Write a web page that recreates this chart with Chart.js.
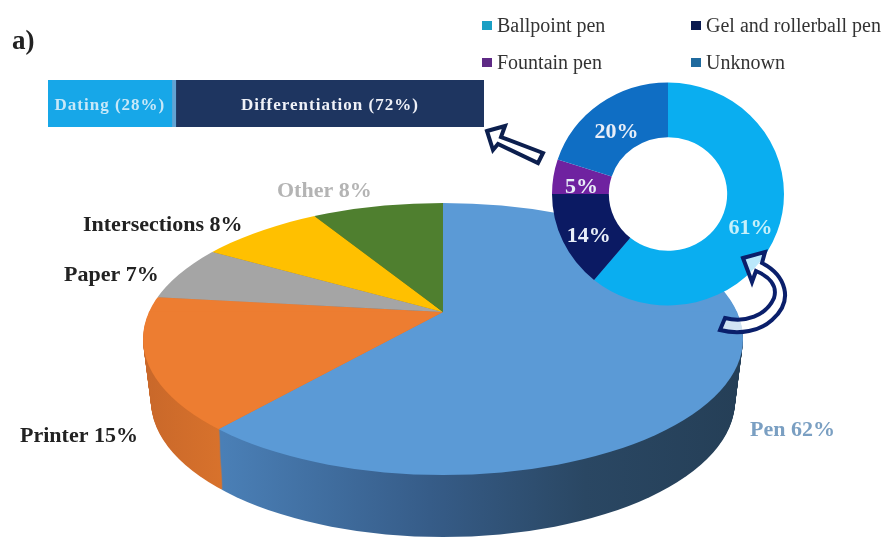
<!DOCTYPE html>
<html>
<head>
<meta charset="utf-8">
<title>a)</title>
<script src="https://cdn.jsdelivr.net/npm/chart.js@4"></script>
<style>
  html, body { margin: 0; padding: 0; background: #fff; }
  #page { position: relative; width: 887px; height: 539px; overflow: hidden; filter: blur(0.6px); font-family: "Liberation Serif", serif; }
  #page canvas, #page svg { position: absolute; }
  .txt { position: absolute; white-space: nowrap; line-height: 1; }
  .swatch { position: absolute; width: 10px; height: 9px; }
</style>
</head>
<body>
<div id="page">
  <canvas id="pie" width="886" height="539" style="left:0;top:0"></canvas>
  <canvas id="bar" width="436" height="47" style="left:48px;top:80px"></canvas>
  <canvas id="ring" width="232" height="232" style="left:552px;top:78px"></canvas>
  <svg width="887" height="539" style="left:0;top:0">
    <path d="M487 131 L505 126 L501 137 L543 153 L538 163 L498 144 L493 150 Z" fill="#fff" stroke="#0c1f4e" stroke-width="4" stroke-linejoin="miter"/>
    <path d="M743 258 L765 252 L762 263 C785 275 795 300 772 320 C760 331 740 335 720 330 L725 318 C745 323 766 316 774 298 C778 285 768 276 756 271 L752 282 Z" fill="#fff" fill-opacity="0.72" stroke="#0a1f6b" stroke-width="4"/>
  </svg>
</div>
<script>
const pieCategories = ["Pen", "Printer", "Paper", "Intersections", "Other"];
const pieValues = [62, 15, 7, 8, 8];
const pieColors = ["#5b9ad6", "#ed7d31", "#a5a5a5", "#ffc000", "#4f7f2f"];
const pieSideColors = ["#2f5378", "#d26f2b", "#777777", "#b88a00", "#375a20"];
const pieTextColors = ["#7a9fc2", "#222222", "#222222", "#222222", "#b4b4b4"];

const ringCategories = ["Ballpoint pen", "Gel and rollerball pen", "Fountain pen", "Unknown"];
const ringValues = [61, 14, 5, 20];
const ringColors = ["#0aaef0", "#0b1a63", "#6f22a0", "#0f6ec4"];
const legendColors = ["#1a9fc4", "#0a1a50", "#5e2a85", "#1f6a9e"];

const barLabels = ["Dating (28%)", "", "Differentiation (72%)"];
// widths as measured on the picture, the divider is a thin sliver
const barDating = [28.4];
const barDivider = [0.9];
const barDifferentiation = [70.7];

// pie label spots, left edge and middle
const pieLabelSpots = [[750, 430], [20, 436], [64, 275], [83, 225], [277, 191]];

const PIE = { cx: 443, cy: 339, rx: 300, ry: 136, ax: 443, ay: 312, above: 0.41, below: 0.49, depth: 62, taper: 8 };

function faceClip(ctx, top, bottom) {
  ctx.beginPath();
  ctx.rect(0, top, 886, bottom - top);
  ctx.clip();
  ctx.beginPath();
  ctx.ellipse(PIE.cx, PIE.cy, PIE.rx, PIE.ry, 0, 0, Math.PI * 2);
  ctx.clip();
}

function squash(ctx, arc, y, s) {
  ctx.translate(0, y);
  ctx.scale(1, s);
  ctx.translate(0, -arc.y);
}

function sideFill(ctx, i) {
  if (i === 0) {
    const g = ctx.createLinearGradient(223, 0, 740, 0);
    g.addColorStop(0, "#4a7fb6");
    g.addColorStop(0.4, "#365c88");
    g.addColorStop(0.7, "#2a4763");
    g.addColorStop(1, "#253f57");
    return g;
  }
  if (i === 1) {
    const g = ctx.createLinearGradient(146, 0, 223, 0);
    g.addColorStop(0, "#c9682a");
    g.addColorStop(1, "#d8722c");
    return g;
  }
  return pieSideColors[i];
}

const pieShape = {
  id: "pieShape",
  beforeDatasetsDraw(chart) {
    const ctx = chart.ctx;
    const arcs = chart.getDatasetMeta(0).data;
    // the rim: same wedges stacked downwards, slightly narrower towards the bottom
    for (let d = PIE.depth; d > 0; d--) {
      ctx.save();
      ctx.beginPath();
      ctx.ellipse(PIE.cx, PIE.cy + d, PIE.rx - PIE.taper * d / PIE.depth, PIE.ry, 0, 0, Math.PI * 2);
      ctx.clip();
      squash(ctx, arcs[0], PIE.ay + d, PIE.below);
      arcs.forEach((a, i) => {
        ctx.fillStyle = sideFill(ctx, i);
        ctx.beginPath();
        ctx.moveTo(a.x, a.y);
        ctx.arc(a.x, a.y, a.outerRadius, a.startAngle, a.endAngle);
        ctx.closePath();
        ctx.fill();
      });
      ctx.restore();
    }
    // far part of the top face is flatter than the near part
    ctx.save();
    faceClip(ctx, 0, PIE.ay + 0.5);
    squash(ctx, arcs[0], PIE.ay, PIE.above);
    arcs.forEach(a => a.draw(ctx));
    ctx.restore();
    // near part, chart draws it itself
    ctx.save();
    faceClip(ctx, PIE.ay - 0.5, 539);
    squash(ctx, arcs[0], PIE.ay, PIE.below);
  },
  afterDatasetsDraw(chart) {
    const ctx = chart.ctx;
    ctx.restore();
    ctx.save();
    ctx.font = "bold 22px 'Liberation Serif'";
    ctx.textBaseline = "middle";
    ctx.textAlign = "left";
    pieCategories.forEach((c, i) => {
      ctx.fillStyle = pieTextColors[i];
      ctx.fillText(c + " " + pieValues[i] + "%", pieLabelSpots[i][0], pieLabelSpots[i][1]);
    });
    ctx.restore();
  }
};

new Chart(document.getElementById("pie"), {
  type: "pie",
  data: {
    labels: pieCategories,
    datasets: [{ data: pieValues, backgroundColor: pieColors, borderWidth: 0, clip: false }]
  },
  options: {
    responsive: false,
    animation: false,
    radius: 900,
    plugins: { legend: { display: false }, tooltip: { enabled: false } }
  },
  plugins: [pieShape]
});

const RING_FLAT = 0.961;
const ringShape = {
  id: "ringShape",
  beforeDatasetsDraw(chart) {
    const ctx = chart.ctx;
    const a = chart.getDatasetMeta(0).data[0];
    ctx.save();
    ctx.translate(a.x, a.y);
    ctx.scale(1, RING_FLAT);
    ctx.translate(-a.x, -a.y);
    // hole is white, the pie does not show through
    ctx.fillStyle = "#fff";
    ctx.beginPath();
    ctx.arc(a.x, a.y, a.innerRadius + 1, 0, Math.PI * 2);
    ctx.fill();
  },
  afterDatasetsDraw(chart) {
    const ctx = chart.ctx;
    ctx.restore();
    ctx.save();
    ctx.font = "bold 22px 'Liberation Serif'";
    ctx.textAlign = "center";
    ctx.textBaseline = "middle";
    chart.getDatasetMeta(0).data.forEach((a, i) => {
      const mid = (a.startAngle + a.endAngle) / 2;
      const r = (a.innerRadius + a.outerRadius) / 2;
      ctx.fillStyle = i === 0 ? "#c6f0fa" : "#e8eef8";
      ctx.fillText(ringValues[i] + "%", a.x + Math.cos(mid) * r, a.y + Math.sin(mid) * r * RING_FLAT + 6);
    });
    ctx.restore();
  }
};

new Chart(document.getElementById("ring"), {
  type: "doughnut",
  data: {
    labels: ringCategories,
    datasets: [{ data: ringValues, backgroundColor: ringColors, borderWidth: 0 }]
  },
  options: {
    responsive: false,
    animation: false,
    cutout: "51%",
    plugins: { legend: { display: false }, tooltip: { enabled: false } }
  },
  plugins: [ringShape]
});

const barText = {
  id: "barText",
  afterDatasetsDraw(chart) {
    const ctx = chart.ctx;
    ctx.save();
    ctx.font = "bold 17px 'Liberation Serif'";
    ctx.letterSpacing = "1px";
    ctx.textAlign = "center";
    ctx.textBaseline = "middle";
    chart.data.datasets.forEach((ds, i) => {
      if (!barLabels[i]) return;
      const p = chart.getDatasetMeta(i).data[0].getCenterPoint();
      ctx.fillStyle = i === 0 ? "#c8e8f8" : "#f0f2f8";
      ctx.fillText(barLabels[i], p.x, p.y + 2);
    });
    ctx.restore();
  }
};

new Chart(document.getElementById("bar"), {
  type: "bar",
  data: {
    labels: [""],
    datasets: [
      { data: barDating, backgroundColor: "#17a7e8" },
      { data: barDivider, backgroundColor: "#62a4d4" },
      { data: barDifferentiation, backgroundColor: "#1e3560" }
    ]
  },
  options: {
    indexAxis: "y",
    responsive: false,
    animation: false,
    barPercentage: 1,
    categoryPercentage: 1,
    scales: {
      x: { stacked: true, display: false, min: 0, max: 100 },
      y: { stacked: true, display: false }
    },
    plugins: { legend: { display: false }, tooltip: { enabled: false } }
  },
  plugins: [barText]
});

// legend and panel letter
const page = document.getElementById("page");
function addText(s, x, y, css) {
  const d = document.createElement("div");
  d.className = "txt";
  d.textContent = s;
  d.style.cssText = "left:" + x + "px;top:" + y + "px;" + css;
  page.appendChild(d);
}
const legendSpots = [[482, 21], [691, 21], [482, 58], [691, 58]];
ringCategories.forEach((c, i) => {
  const sw = document.createElement("div");
  sw.className = "swatch";
  sw.style.cssText = "left:" + legendSpots[i][0] + "px;top:" + legendSpots[i][1] + "px;background:" + legendColors[i];
  page.appendChild(sw);
  addText(c, legendSpots[i][0] + 15, legendSpots[i][1] - 6, "font-size:20px;color:#333");
});
addText("a)", 12, 27, "font-size:27px;font-weight:bold;color:#222");
</script>
</body>
</html>
